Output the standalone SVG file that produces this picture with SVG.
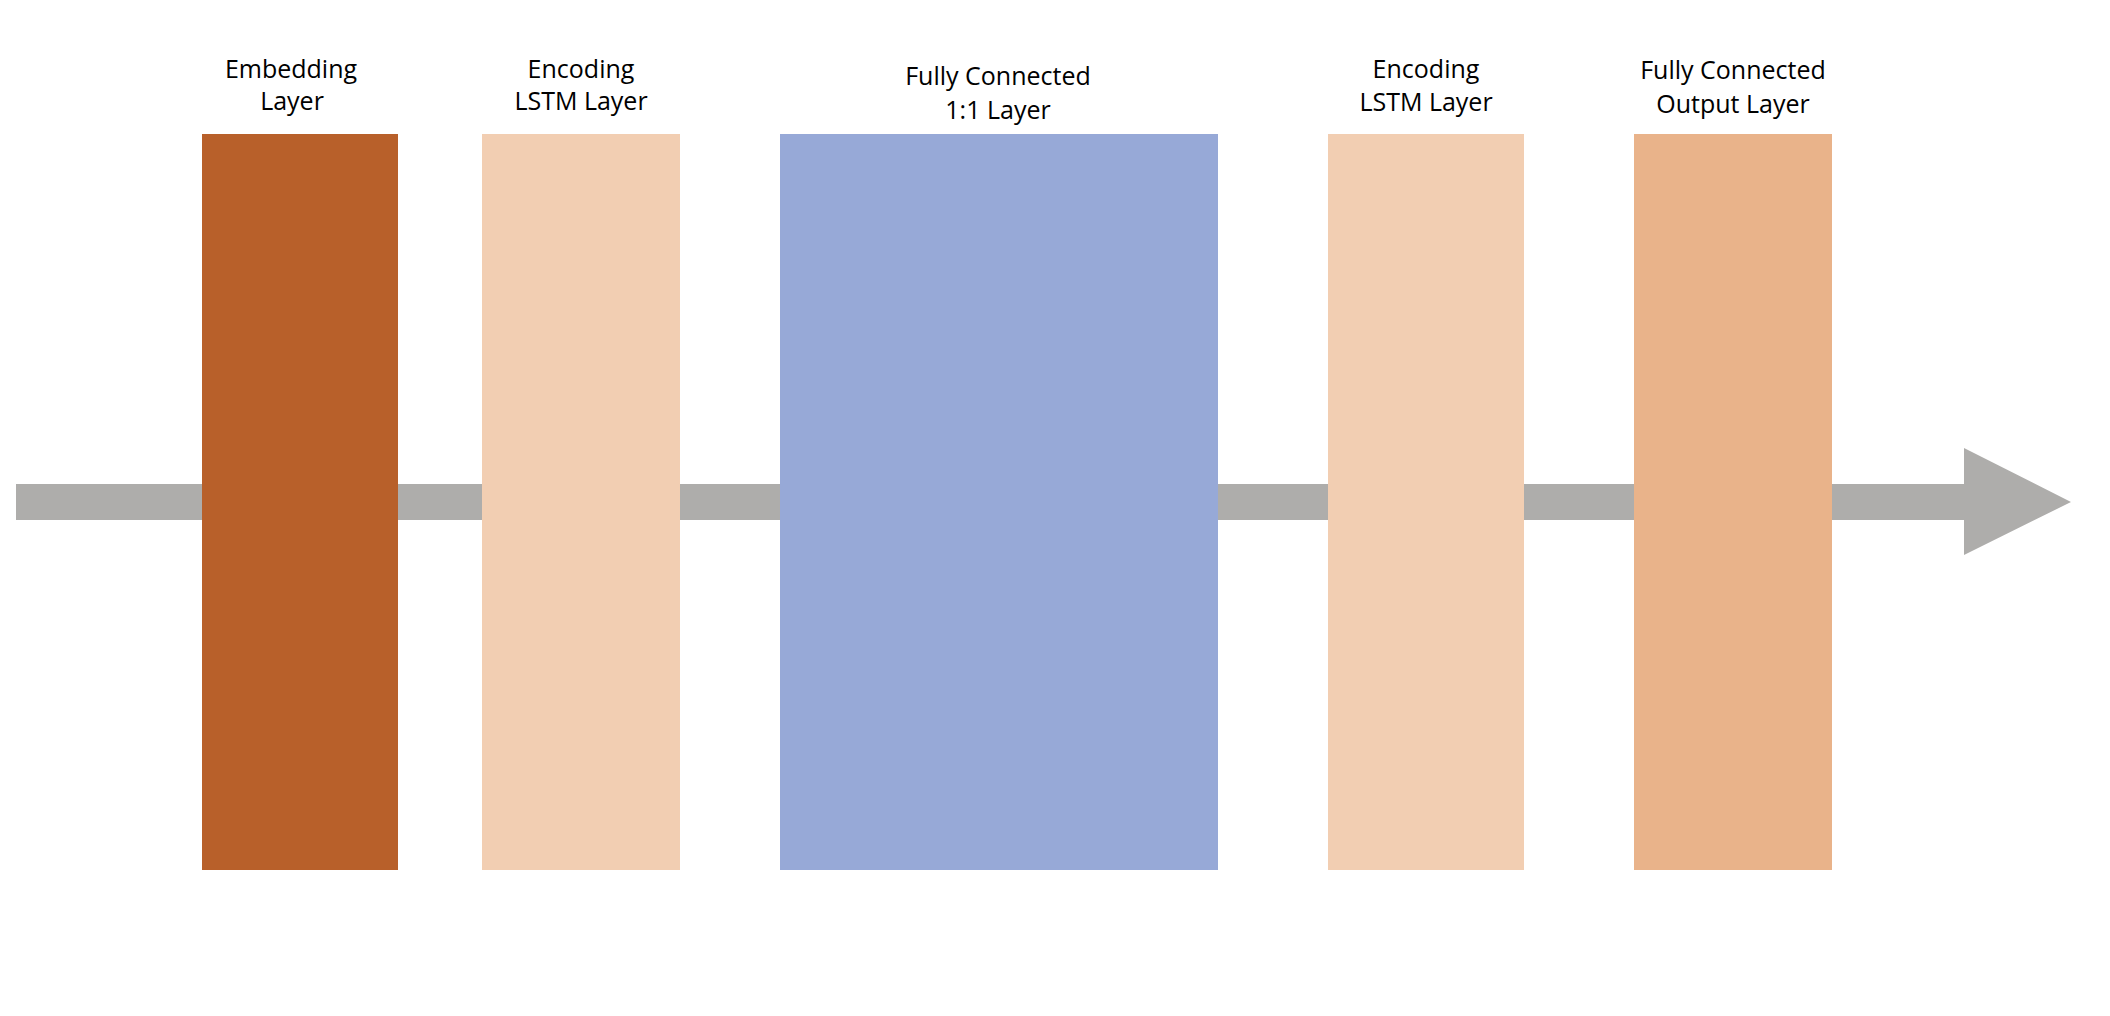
<svg xmlns="http://www.w3.org/2000/svg" width="2110" height="1016" viewBox="0 0 2110 1016">
<style>
.lbl{font-family:"Open Sans","Liberation Sans",sans-serif;font-size:25px;fill:#000;text-anchor:middle}
</style>
<rect width="2110" height="1016" fill="#fff"/>
<g id="connectors">
<path id="flow-arrow" d="M16,484 H1964 V448 L2071,502 L1964,555 V520 H16 Z" fill="#AEADAB"/>
</g>
<g id="embedding">
<rect x="202" y="134" width="196" height="736" fill="#B8602A"/>
<text class="lbl" x="291" y="78">Embedding</text>
<text class="lbl" x="292" y="110">Layer</text>
</g>
<g id="encoding-lstm-1">
<rect x="482" y="134" width="198" height="736" fill="#F2CEB2"/>
<text class="lbl" x="581" y="78">Encoding</text>
<text class="lbl" x="581" y="110">LSTM Layer</text>
</g>
<g id="fc-1to1">
<rect x="780" y="134" width="438" height="736" fill="#97A9D7"/>
<text class="lbl" x="998" y="85">Fully Connected</text>
<text class="lbl" x="998" y="119">1:1 Layer</text>
</g>
<g id="encoding-lstm-2">
<rect x="1328" y="134" width="196" height="736" fill="#F2CEB2"/>
<text class="lbl" x="1426" y="78">Encoding</text>
<text class="lbl" x="1426" y="111">LSTM Layer</text>
</g>
<g id="fc-output">
<rect x="1634" y="134" width="198" height="736" fill="#E9B38A"/>
<text class="lbl" x="1733" y="79">Fully Connected</text>
<text class="lbl" x="1733" y="113">Output Layer</text>
</g>
</svg>
